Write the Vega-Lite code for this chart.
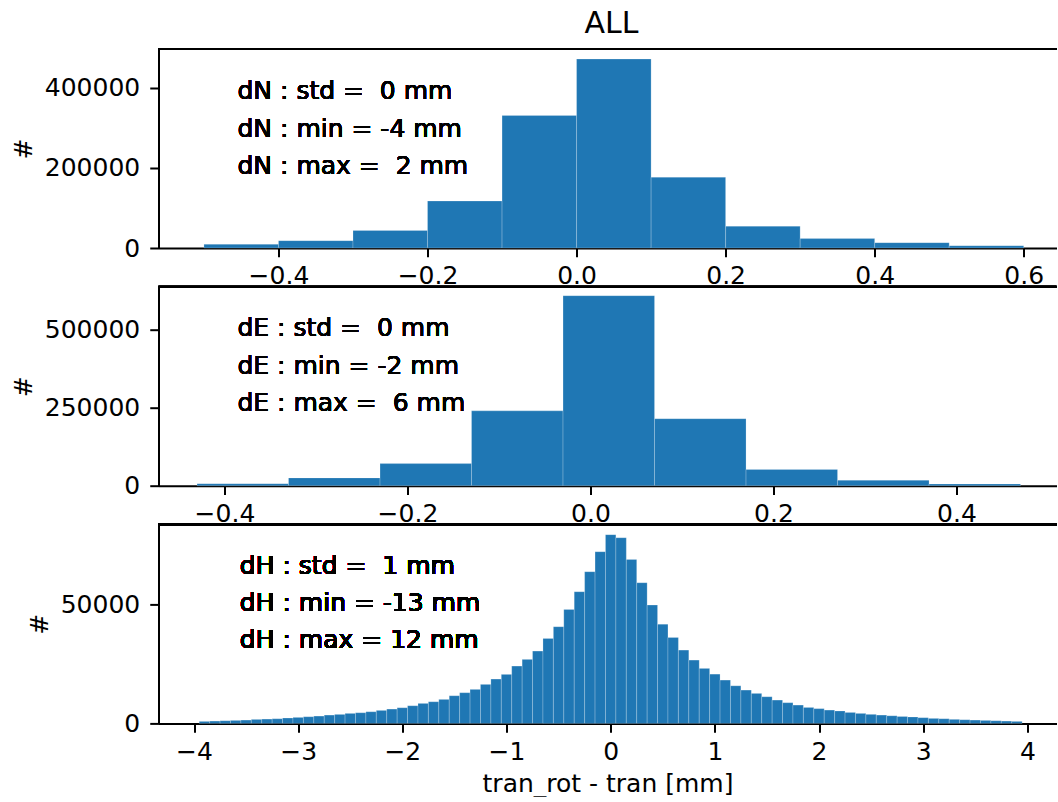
{
  "$schema": "https://vega.github.io/schema/vega-lite/v6.json",
  "padding": {"left": 10.5, "top": 9, "right": 0, "bottom": 0},
  "background": "white",
  "bounds": "flush",
  "spacing": 38.7,
  "config": {
    "view": {"stroke": null},
    "font": "DejaVu Sans",
    "axis": {
      "domainColor": "black", "domainWidth": 2, "tickColor": "black", "tickWidth": 2, "tickSize": 8.75,
      "labelFont": "DejaVu Sans", "labelFontSize": 25, "labelColor": "black",
      "titleFont": "DejaVu Sans", "titleFontSize": 25, "titleFontWeight": "normal", "titleColor": "black",
      "grid": false, "zindex": 1
    },
    "axisX": {"labelPadding": 7, "titlePadding": 7},
    "axisY": {"labelPadding": 10, "titlePadding": 8},
    "title": {"font": "DejaVu Sans", "fontSize": 30, "fontWeight": "normal", "color": "black"}
  },
  "datasets": {
    "dN": [
      {"x0": -0.5, "x1": -0.4, "n": 9200},
      {"x0": -0.4, "x1": -0.3, "n": 18400},
      {"x0": -0.3, "x1": -0.2, "n": 43600},
      {"x0": -0.2, "x1": -0.1, "n": 117300},
      {"x0": -0.1, "x1": 0.0, "n": 331000},
      {"x0": 0.0, "x1": 0.1, "n": 471900},
      {"x0": 0.1, "x1": 0.2, "n": 176800},
      {"x0": 0.2, "x1": 0.3, "n": 54500},
      {"x0": 0.3, "x1": 0.4, "n": 23500},
      {"x0": 0.4, "x1": 0.5, "n": 13400},
      {"x0": 0.5, "x1": 0.6, "n": 5900}
    ],
    "dE": [
      {"x0": -0.43, "x1": -0.33, "n": 6500},
      {"x0": -0.33, "x1": -0.23, "n": 25100},
      {"x0": -0.23, "x1": -0.13, "n": 71000},
      {"x0": -0.13, "x1": -0.03, "n": 240200},
      {"x0": -0.03, "x1": 0.07, "n": 610000},
      {"x0": 0.07, "x1": 0.17, "n": 215100},
      {"x0": 0.17, "x1": 0.27, "n": 52400},
      {"x0": 0.27, "x1": 0.37, "n": 17500},
      {"x0": 0.37, "x1": 0.47, "n": 5500}
    ],
    "dH": [
      {"x0": -3.95, "x1": -3.85, "n": 840},
      {"x0": -3.85, "x1": -3.75, "n": 980},
      {"x0": -3.75, "x1": -3.65, "n": 1120},
      {"x0": -3.65, "x1": -3.55, "n": 1260},
      {"x0": -3.55, "x1": -3.45, "n": 1400},
      {"x0": -3.45, "x1": -3.35, "n": 1680},
      {"x0": -3.35, "x1": -3.25, "n": 1820},
      {"x0": -3.25, "x1": -3.15, "n": 1960},
      {"x0": -3.15, "x1": -3.05, "n": 2240},
      {"x0": -3.05, "x1": -2.95, "n": 2520},
      {"x0": -2.95, "x1": -2.85, "n": 2800},
      {"x0": -2.85, "x1": -2.75, "n": 3080},
      {"x0": -2.75, "x1": -2.65, "n": 3500},
      {"x0": -2.65, "x1": -2.55, "n": 3780},
      {"x0": -2.55, "x1": -2.45, "n": 4200},
      {"x0": -2.45, "x1": -2.35, "n": 4480},
      {"x0": -2.35, "x1": -2.25, "n": 4900},
      {"x0": -2.25, "x1": -2.15, "n": 5460},
      {"x0": -2.15, "x1": -2.05, "n": 6020},
      {"x0": -2.05, "x1": -1.95, "n": 6580},
      {"x0": -1.95, "x1": -1.85, "n": 7420},
      {"x0": -1.85, "x1": -1.75, "n": 8400},
      {"x0": -1.75, "x1": -1.65, "n": 9100},
      {"x0": -1.65, "x1": -1.55, "n": 10080},
      {"x0": -1.55, "x1": -1.45, "n": 11620},
      {"x0": -1.45, "x1": -1.35, "n": 12890},
      {"x0": -1.35, "x1": -1.25, "n": 14290},
      {"x0": -1.25, "x1": -1.15, "n": 16390},
      {"x0": -1.15, "x1": -1.05, "n": 18630},
      {"x0": -1.05, "x1": -0.95, "n": 20590},
      {"x0": -0.95, "x1": -0.85, "n": 24090},
      {"x0": -0.85, "x1": -0.75, "n": 26890},
      {"x0": -0.75, "x1": -0.65, "n": 30390},
      {"x0": -0.65, "x1": -0.55, "n": 35710},
      {"x0": -0.55, "x1": -0.45, "n": 40620},
      {"x0": -0.45, "x1": -0.35, "n": 47900},
      {"x0": -0.35, "x1": -0.25, "n": 55320},
      {"x0": -0.25, "x1": -0.15, "n": 63730},
      {"x0": -0.15, "x1": -0.05, "n": 72130},
      {"x0": -0.05, "x1": 0.05, "n": 79300},
      {"x0": 0.05, "x1": 0.15, "n": 78000},
      {"x0": 0.15, "x1": 0.25, "n": 68900},
      {"x0": 0.25, "x1": 0.35, "n": 59100},
      {"x0": 0.35, "x1": 0.45, "n": 49700},
      {"x0": 0.45, "x1": 0.55, "n": 41700},
      {"x0": 0.55, "x1": 0.65, "n": 36100},
      {"x0": 0.65, "x1": 0.75, "n": 30800},
      {"x0": 0.75, "x1": 0.85, "n": 26600},
      {"x0": 0.85, "x1": 0.95, "n": 23100},
      {"x0": 0.95, "x1": 1.05, "n": 20700},
      {"x0": 1.05, "x1": 1.15, "n": 18200},
      {"x0": 1.15, "x1": 1.25, "n": 15800},
      {"x0": 1.25, "x1": 1.35, "n": 14000},
      {"x0": 1.35, "x1": 1.45, "n": 12600},
      {"x0": 1.45, "x1": 1.55, "n": 11200},
      {"x0": 1.55, "x1": 1.65, "n": 9800},
      {"x0": 1.65, "x1": 1.75, "n": 8700},
      {"x0": 1.75, "x1": 1.85, "n": 7700},
      {"x0": 1.85, "x1": 1.95, "n": 6700},
      {"x0": 1.95, "x1": 2.05, "n": 6200},
      {"x0": 2.05, "x1": 2.15, "n": 5600},
      {"x0": 2.15, "x1": 2.25, "n": 5200},
      {"x0": 2.25, "x1": 2.35, "n": 4600},
      {"x0": 2.35, "x1": 2.45, "n": 4200},
      {"x0": 2.45, "x1": 2.55, "n": 3800},
      {"x0": 2.55, "x1": 2.65, "n": 3500},
      {"x0": 2.65, "x1": 2.75, "n": 3200},
      {"x0": 2.75, "x1": 2.85, "n": 2900},
      {"x0": 2.85, "x1": 2.95, "n": 2700},
      {"x0": 2.95, "x1": 3.05, "n": 2400},
      {"x0": 3.05, "x1": 3.15, "n": 2100},
      {"x0": 3.15, "x1": 3.25, "n": 1960},
      {"x0": 3.25, "x1": 3.35, "n": 1700},
      {"x0": 3.35, "x1": 3.45, "n": 1540},
      {"x0": 3.45, "x1": 3.55, "n": 1400},
      {"x0": 3.55, "x1": 3.65, "n": 1260},
      {"x0": 3.65, "x1": 3.75, "n": 1120},
      {"x0": 3.75, "x1": 3.85, "n": 980},
      {"x0": 3.85, "x1": 3.95, "n": 840}
    ]
  },
  "vconcat": [
    {
      "width": 898, "height": 199,
      "title": {"text": "ALL", "anchor": "middle", "baseline": "alphabetic", "offset": -15.0, "dx": 4, "fontSize": 30},
      "data": {"name": "dN"},
      "layer": [
        {
          "mark": {"type": "bar", "color": "#1f77b4", "stroke": "white", "strokeOpacity": 0.3, "strokeWidth": 0.7},
          "encoding": {
            "x": {"field": "x0", "type": "quantitative", "scale": {"domain": [-0.561, 0.644], "nice": false, "zero": false},
                  "axis": {"values": [-0.4, -0.2, 0, 0.2, 0.4, 0.6], "format": ".1f", "title": null}},
            "x2": {"field": "x1"},
            "y": {"field": "n", "type": "quantitative", "scale": {"domain": [0, 497000], "nice": false},
                  "axis": {"values": [0, 200000, 400000], "format": "d", "title": "#"}},
            "y2": {"datum": 0}
          }
        },
        {
          "mark": {"type": "rule", "color": "black", "strokeWidth": 2},
          "encoding": {"y": {"datum": 497000}}
        },
        {
          "mark": {"type": "text", "text": ["dN : std = \u00a00 mm", "dN : min = -4 mm", "dN : max = \u00a02 mm"], "align": "left", "baseline": "alphabetic", "font": "DejaVu Sans", "fontSize": 25, "lineHeight": 37.3, "color": "black"},
          "encoding": {"x": {"datum": -0.455}, "y": {"datum": 371400}}
        }
      ]
    },
    {
      "width": 898, "height": 199,
      "data": {"name": "dE"},
      "layer": [
        {
          "mark": {"type": "bar", "color": "#1f77b4", "stroke": "white", "strokeOpacity": 0.3, "strokeWidth": 0.7},
          "encoding": {
            "x": {"field": "x0", "type": "quantitative", "scale": {"domain": [-0.4721, 0.5093], "nice": false, "zero": false},
                  "axis": {"values": [-0.4, -0.2, 0, 0.2, 0.4], "format": ".1f", "title": null}},
            "x2": {"field": "x1"},
            "y": {"field": "n", "type": "quantitative", "scale": {"domain": [0, 638800], "nice": false},
                  "axis": {"values": [0, 250000, 500000], "format": "d", "title": "#"}},
            "y2": {"datum": 0}
          }
        },
        {
          "mark": {"type": "rule", "color": "black", "strokeWidth": 2},
          "encoding": {"y": {"datum": 638800}}
        },
        {
          "mark": {"type": "text", "text": ["dE : std = \u00a00 mm", "dE : min = -2 mm", "dE : max = \u00a06 mm"], "align": "left", "baseline": "alphabetic", "font": "DejaVu Sans", "fontSize": 25, "lineHeight": 37.5, "color": "black"},
          "encoding": {"x": {"datum": -0.3858}, "y": {"datum": 480500}}
        }
      ]
    },
    {
      "width": 898, "height": 199,
      "data": {"name": "dH"},
      "layer": [
        {
          "mark": {"type": "bar", "color": "#1f77b4", "stroke": "white", "strokeOpacity": 0.3, "strokeWidth": 0.7},
          "encoding": {
            "x": {"field": "x0", "type": "quantitative", "scale": {"domain": [-4.341, 4.28], "nice": false, "zero": false},
                  "axis": {"values": [-4, -3, -2, -1, 0, 1, 2, 3, 4], "format": "d", "title": "tran_rot - tran [mm]"}},
            "x2": {"field": "x1"},
            "y": {"field": "n", "type": "quantitative", "scale": {"domain": [0, 83600], "nice": false},
                  "axis": {"values": [0, 50000], "format": "d", "title": "#"}},
            "y2": {"datum": 0}
          }
        },
        {
          "mark": {"type": "rule", "color": "black", "strokeWidth": 2},
          "encoding": {"y": {"datum": 83600}}
        },
        {
          "mark": {"type": "text", "text": ["dH : std = \u00a01 mm", "dH : min = -13 mm", "dH : max = 12 mm"], "align": "left", "baseline": "alphabetic", "font": "DejaVu Sans", "fontSize": 25, "lineHeight": 37, "color": "black"},
          "encoding": {"x": {"datum": -3.56}, "y": {"datum": 62760}}
        }
      ]
    }
  ]
}
